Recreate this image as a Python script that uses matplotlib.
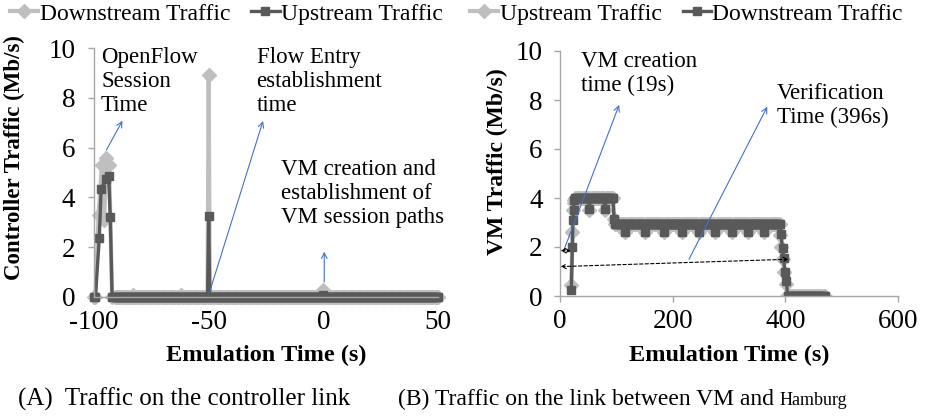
import numpy as np
import matplotlib
matplotlib.use("Agg")
import matplotlib.pyplot as plt

plt.rcParams['font.family'] = ['Liberation Serif', 'DejaVu Serif']
plt.rcParams['axes.unicode_minus'] = False

# ---- (A) controller link ----
# spike at start (OpenFlow session)
ctrl_down_spike_t = [-100, -99.4, -98.0, -96.6, -95.6, -94.6, -93.4, -92.1]
ctrl_down_spike_v = [0, 0, 3.3, 5.3, 3.1, 5.6, 5.3, 0]
ctrl_up_spike_t = [-100, -99.4, -97.7, -96.9, -94.6, -93.6, -92.9, -92.1]
ctrl_up_spike_v = [0, 0, 2.35, 4.35, 4.75, 4.85, 3.2, 0]
# rest of the run sampled every 0.5 s, zero except a few events
ctrl_t = np.arange(-91, 50.5, 0.5)
ctrl_down_events = {-83: 0.08, -62: 0.08, -50: 8.9, 0: 0.3}
ctrl_up_events = {-50: 3.25, 0: 0.1}

# ---- (B) link between VM and Hamburg ----
vm_down_ramp_t = [20, 22, 23, 24, 25]
vm_down_ramp_v = [0.25, 2.0, 3.1, 3.5, 3.9]
vm_up_ramp_t = [20, 22, 23, 24, 25]
vm_up_ramp_v = [0.45, 2.6, 3.5, 3.8, 3.9]
vm_p1_t = np.arange(26, 96, 2)
vm_p1_level = 4.0
vm_p1_dips = [52, 80]
vm_down_p1_dip, vm_up_p1_dip = 3.55, 3.5
vm_step_t = [96]
vm_step_v = [3.15]
vm_p2_t = np.arange(98, 391, 2)
vm_p2_level = 2.95
vm_p2_dips = [116, 150, 184, 216, 246, 276, 306, 334, 362]
vm_down_p2_dip, vm_up_p2_dip = 2.62, 2.6
vm_down_fall_t = [392, 395, 397, 399, 402, 404]
vm_down_fall_v = [2.55, 1.95, 1.55, 1.0, 0.6, 0.0]
vm_up_fall_t = [391, 393, 396, 398, 401, 403]
vm_up_fall_v = [2.5, 2.0, 1.5, 1.0, 0.5, 0.0]
vm_p3_t = np.arange(406, 472, 2)

LIGHT = '#BFBFBF'
DARK = '#595959'
BLUE = '#4472C4'
AXC = '#A6A6A6'


def ctrl_series(spike_t, spike_v, events):
    v = np.zeros(len(ctrl_t))
    for k, val in events.items():
        v[ctrl_t == k] = val
    return np.concatenate([spike_t, ctrl_t]), np.concatenate([spike_v, v])


def vm_series(ramp_t, ramp_v, dip1, dip2, fall_t, fall_v):
    p1 = np.full(len(vm_p1_t), vm_p1_level)
    p1[np.isin(vm_p1_t, vm_p1_dips)] = dip1
    p2 = np.full(len(vm_p2_t), vm_p2_level)
    p2[np.isin(vm_p2_t, vm_p2_dips)] = dip2
    t = np.concatenate([ramp_t, vm_p1_t, vm_step_t, vm_p2_t, fall_t, vm_p3_t])
    v = np.concatenate([ramp_v, p1, vm_step_v, p2, fall_v, np.zeros(len(vm_p3_t))])
    return t, v


def style(ax):
    for s in ['top', 'right']:
        ax.spines[s].set_visible(False)
    for s in ['left', 'bottom']:
        ax.spines[s].set_color(AXC)
        ax.spines[s].set_linewidth(1.0)
    ax.tick_params(axis='both', colors=AXC, labelcolor='black', labelsize=19.5,
                   length=4.5, width=1.0, direction='out')
    ax.tick_params(axis='y', pad=9)
    ax.tick_params(axis='x', pad=5)
    ax.set_ylim(0, 10)
    ax.set_yticks([0, 2, 4, 6, 8, 10])


fig = plt.figure(figsize=(9.27, 4.19), dpi=100)
axA = fig.add_axes([94 / 927, 1 - 297 / 419, (438 - 94) / 927, (297 - 48) / 419])
axB = fig.add_axes([560 / 927, 1 - 296 / 419, (898 - 560) / 927, (296 - 51) / 419])

# (A)
t, v = ctrl_series(ctrl_down_spike_t, ctrl_down_spike_v, ctrl_down_events)
lA1, = axA.plot(t, v, color=LIGHT, lw=3.0, marker='D', ms=7, label='Downstream Traffic',
                clip_on=False)
t, v = ctrl_series(ctrl_up_spike_t, ctrl_up_spike_v, ctrl_up_events)
lA2, = axA.plot(t, v, color=DARK, lw=2.4, marker='s', ms=5.5, label='Upstream Traffic',
                clip_on=False)
style(axA)
axA.set_xlim(-100, 50)
axA.set_xticks([-100, -50, 0, 50])
axA.set_ylabel('Controller Traffic (Mb/s)', fontsize=16.5, fontweight='bold', va='center')
axA.set_xlabel('Emulation Time (s)', fontsize=17.5, fontweight='bold', va='center')
axA.yaxis.set_label_coords(-0.23, 0.56)
axA.xaxis.set_label_coords(0.5, -0.233)

fs = 16.5
axA.text(-96.9, 10.05, 'OpenFlow\nSession\nTime', fontsize=fs, va='top', ha='left', linespacing=1.2)
axA.text(-29.1, 10.05, 'Flow Entry\nestablishment\ntime', fontsize=fs, va='top', ha='left', linespacing=1.2)
axA.text(-18.6, 5.55, 'VM creation and\nestablishment of\nVM session paths', fontsize=fs,
         va='top', ha='left', linespacing=1.2)
arrow_blue = dict(arrowstyle='->', color=BLUE, lw=0.8, shrinkA=0, shrinkB=0)
axA.annotate('', xy=(-87.6, 7.08), xytext=(-94.6, 5.9), arrowprops=arrow_blue)
axA.annotate('', xy=(-26.3, 7.07), xytext=(-49.6, 0.2), arrowprops=arrow_blue)
axA.annotate('', xy=(0.4, 1.82), xytext=(0.4, 0.6), arrowprops=arrow_blue)

# (B)
t, v = vm_series(vm_up_ramp_t, vm_up_ramp_v, vm_up_p1_dip, vm_up_p2_dip, vm_up_fall_t, vm_up_fall_v)
lB1, = axB.plot(t, v, color=LIGHT, lw=3.0, marker='D', ms=7, label='Upstream Traffic')
t, v = vm_series(vm_down_ramp_t, vm_down_ramp_v, vm_down_p1_dip, vm_down_p2_dip,
                 vm_down_fall_t, vm_down_fall_v)
lB2, = axB.plot(t, v, color=DARK, lw=2.4, marker='s', ms=5.5, label='Downstream Traffic')
style(axB)
axB.set_xlim(0, 600)
axB.set_xticks([0, 200, 400, 600])
axB.tick_params(axis='y', pad=8)
axB.set_ylabel('VM Traffic (Mb/s)', fontsize=17, fontweight='bold', va='center')
axB.set_xlabel('Emulation Time (s)', fontsize=17.5, fontweight='bold', va='center')
axB.yaxis.set_label_coords(-0.186, 0.547)
axB.xaxis.set_label_coords(0.5, -0.241)

axB.text(37, 10.0, 'VM creation\ntime (19s)', fontsize=fs, va='top', ha='left', linespacing=1.2)
axB.text(385, 8.7, 'Verification\nTime (396s)', fontsize=fs, va='top', ha='left', linespacing=1.2)
axB.annotate('', xy=(105, 7.8), xytext=(7, 1.88), arrowprops=arrow_blue)
axB.annotate('', xy=(368, 7.73), xytext=(229, 1.5), arrowprops=arrow_blue)
arrow_dash = dict(arrowstyle='<->', color='black', lw=0.8, linestyle=(0, (3, 2)),
                  shrinkA=0, shrinkB=0, mutation_scale=8)
axB.annotate('', xy=(19, 1.85), xytext=(1, 1.85), arrowprops=arrow_dash)
axB.annotate('', xy=(406, 1.5), xytext=(1, 1.2), arrowprops=arrow_dash)

# legends
leg_kw = dict(loc='center left', ncol=2, frameon=False, fontsize=17, handlelength=1.2,
              handletextpad=0.05, columnspacing=0.9, borderaxespad=0, borderpad=0)
fig.legend(handles=[lA1, lA2], bbox_to_anchor=(10 / 927, 1 - 14 / 419), **leg_kw)
fig.legend(handles=[lB1, lB2], bbox_to_anchor=(470 / 927, 1 - 14 / 419), **leg_kw)

# captions
fig.text(18 / 927, 1 - 399 / 419, '(A)  Traffic on the controller link', fontsize=18,
         va='center', ha='left')
capB = fig.text(398 / 927, 1 - 399 / 419, '(B) Traffic on the link between VM and ', fontsize=17,
                va='center', ha='left')
fig.canvas.draw()
bb = capB.get_window_extent()
fig.text(bb.x1 / fig.bbox.width, 1 - 400 / 419, 'Hamburg', fontsize=13, va='center', ha='left')

fig.savefig('out.png', dpi=100)
